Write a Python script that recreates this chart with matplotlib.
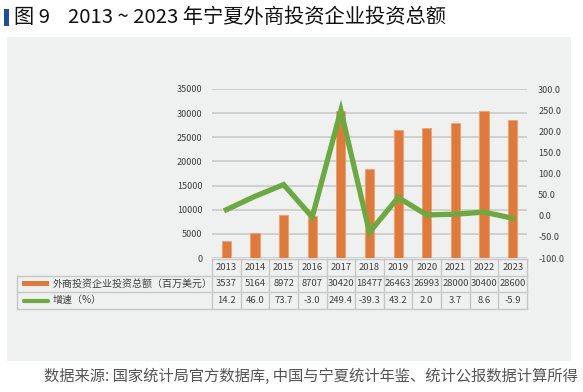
import matplotlib.pyplot as plt
from matplotlib.patches import Rectangle
from matplotlib.lines import Line2D
from matplotlib.transforms import blended_transform_factory

plt.rcParams['font.family'] = ['Noto Sans CJK SC', 'DejaVu Sans']

years = ["2013", "2014", "2015", "2016", "2017", "2018",
         "2019", "2020", "2021", "2022", "2023"]
investment = [3537, 5164, 8972, 8707, 30420, 18477, 26463, 26993, 28000, 30400, 28600]
growth = [14.2, 46.0, 73.7, -3.0, 249.4, -39.3, 43.2, 2.0, 3.7, 8.6, -5.9]
growth_labels = ["14.2", "46.0", "73.7", "-3.0", "249.4", "-39.3", "43.2", "2.0", "3.7", "8.6", "-5.9"]
bar_name = "外商投资企业投资总额（百万美元）"
line_name = "增速（%）"
title = "图 9    2013 ~ 2023 年宁夏外商投资企业投资总额"
source = "数据来源: 国家统计局官方数据库, 中国与宁夏统计年鉴、统计公报数据计算所得"

W, H = 583, 392
ORANGE = "#e07a3a"
GREEN = "#6aaa3f"
GRID = "#cfd0d0"
PANEL = "#eff0f0"
TXT = "#404040"


def fx(px):
    return px / W


def fy(py):
    return 1 - py / H


fig = plt.figure(figsize=(W / 100, H / 100), dpi=100)
fig.patch.set_facecolor("white")

# background layer: gray panel, title, source, table
bg = fig.add_axes([0, 0, 1, 1], zorder=-1)
bg.set_xlim(0, W)
bg.set_ylim(H, 0)
bg.axis("off")
bg.add_patch(Rectangle((7, 37), 564, 324, facecolor=PANEL, edgecolor="none"))
bg.add_patch(Rectangle((4, 9), 5, 17, facecolor="#1f4e99", edgecolor="none"))
bg.text(14, 17.5, title, fontsize=14.6, fontweight="medium", va="center", ha="left",
        color="#111111")
bg.text(578, 376, source, fontsize=11.0, va="center", ha="right", color="#555555")

ax = fig.add_axes([fx(212), fy(258), fx(527) - fx(212), fy(89) - fy(258)])
ax.set_facecolor("none")
x = list(range(len(years)))
ax.bar(x, investment, width=0.32, color=ORANGE, edgecolor="#f0a070", linewidth=0.6, zorder=3)
ax.set_xlim(-0.5, len(years) - 0.5)
ax.set_ylim(0, 35000)
ax.set_yticks(range(0, 35001, 5000))
ax.yaxis.grid(True, color=GRID, linewidth=1.4, zorder=0)
ax.set_axisbelow(True)
ax.tick_params(axis="y", length=0, pad=7, labelsize=6.5, labelcolor=TXT)
ax.set_xticks([])
for s in ax.spines.values():
    s.set_visible(False)

ax2 = ax.twinx()
ax2.plot(x, growth, color=GREEN, linewidth=3.8, solid_joinstyle="miter", zorder=4)
ax2.set_ylim(-100, 300)
ax2.set_yticks(range(-100, 301, 50))
ax2.set_yticklabels(["%.1f" % v for v in range(-100, 301, 50)])
ax2.tick_params(axis="y", length=0, pad=8, labelsize=6.5, labelcolor=TXT)
for s in ax2.spines.values():
    s.set_visible(False)

# data table under the chart
tr = blended_transform_factory(ax.transData, fig.transFigure)
rows = [259, 275.5, 292, 308.5]
edge = "#c6c7c7"
n = len(years)
for i in range(n + 1):
    xe = i - 0.5
    ax.add_line(Line2D([xe, xe], [fy(rows[0]), fy(rows[3])], transform=tr,
                       color=edge, linewidth=1.0, clip_on=False))
for r in rows:
    ax.add_line(Line2D([-0.5, n - 0.5], [fy(r), fy(r)], transform=tr,
                       color=edge, linewidth=1.0, clip_on=False))
# legend column
for r in rows[1:]:
    bg.plot([17, 212], [r, r], color=edge, linewidth=1.0)
bg.plot([17, 17], [rows[1], rows[3]], color=edge, linewidth=1.0)

for i in range(n):
    ax.text(i, fy((rows[0] + rows[1]) / 2), years[i], transform=tr, ha="center",
            va="center", fontsize=6.8, color=TXT)
    ax.text(i, fy((rows[1] + rows[2]) / 2), str(investment[i]), transform=tr, ha="center",
            va="center", fontsize=6.8, color=TXT)
    ax.text(i, fy((rows[2] + rows[3]) / 2), growth_labels[i], transform=tr, ha="center",
            va="center", fontsize=6.8, color=TXT)

bg.add_patch(Rectangle((22, 281), 27, 5, facecolor=ORANGE, edgecolor="none"))
bg.plot([24, 48], [300.5, 300.5], color=GREEN, linewidth=3, solid_capstyle="round")
bg.text(53, (rows[1] + rows[2]) / 2, bar_name, fontsize=7.2, va="center",
        ha="left", color=TXT)
bg.text(53, (rows[2] + rows[3]) / 2, line_name, fontsize=7.2, va="center",
        ha="left", color=TXT)

fig.savefig("out.png", dpi=100)
